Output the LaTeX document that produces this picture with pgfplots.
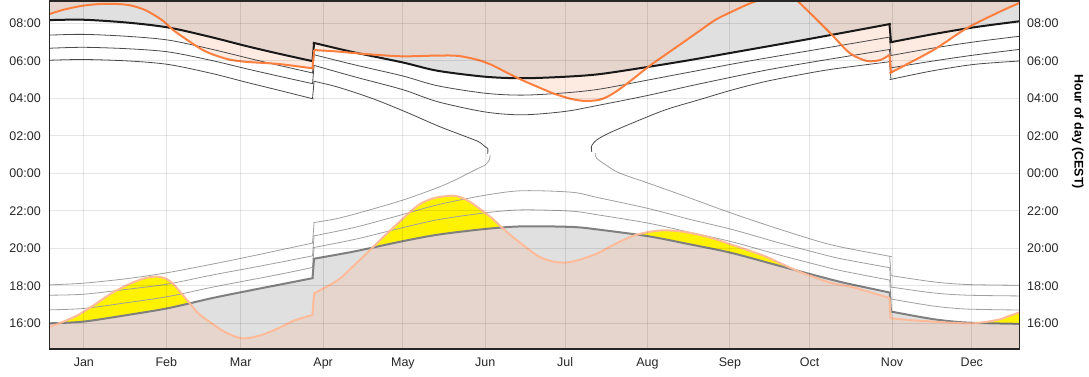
\documentclass[border=0pt]{standalone}
\usepackage{fontspec}
\setmainfont{Liberation Sans}
\usepackage{pgfplots}
\usepackage{pgfplotstable}
\pgfplotsset{compat=1.18}
\usepgfplotslibrary{fillbetween}
\definecolor{brownfill}{HTML}{E5D5CC}
\definecolor{greyfill}{HTML}{E0E0E0}
\definecolor{pinkfill}{HTML}{FDEBE2}
\definecolor{yellowfill}{HTML}{FFF200}
\definecolor{moontop}{HTML}{FF7F3F}
\definecolor{moonbot}{HTML}{FFBB99}
\definecolor{dawnline}{HTML}{4A4A4A}
\definecolor{duskline}{HTML}{A0A0A0}
% sunrise
\pgfplotstableread{
x y
0 8.18
13 8.20
30 8.04
45 7.78
61 7.27
74 6.80
86 6.40
98.4 6.01
99.0 5.99
99.6 6.96
100.2 6.94
115 6.45
133 5.92
146 5.48
164 5.16
178 5.08
194 5.16
207 5.30
225 5.68
241 6.05
257 6.45
271 6.80
286 7.18
301 7.57
315.4 7.95
316.0 7.97
316.6 7.00
317.2 7.02
332 7.42
348 7.80
365 8.12
}\sunrise
% sunset
\pgfplotstableread{
x y
0 -7.99
12.8 -7.90
29.7 -7.54
44.8 -7.18
61.1 -6.65
73.6 -6.29
86.2 -5.94
98.4 -5.60
99.0 -5.58
99.6 -4.55
100.2 -4.53
115 -4.15
132.6 -3.62
146.3 -3.26
163.9 -2.96
177.7 -2.82
196.5 -2.85
206.5 -2.99
225.4 -3.35
241 -3.78
256.7 -4.24
275.5 -4.96
294.4 -5.67
301.2 -5.90
315.5 -6.33
316.1 -6.35
316.6 -7.36
317.2 -7.38
332.6 -7.77
345.1 -7.95
365 -8.02
}\sunset
% moon, morning
\pgfplotstableread{
x y
0 8.50
5 8.72
11 8.91
17 9.02
23.5 9.05
30 8.98
36 8.72
42.3 8.19
46.6 7.65
52.3 7.08
57.3 6.62
61.1 6.37
67.3 6.09
73.6 5.96
86.2 5.84
98.4 5.62
99.0 5.61
99.6 6.58
100.2 6.576
107 6.52
115 6.42
120 6.36
132.6 6.25
146.3 6.29
153.9 6.27
161.4 6.05
166.4 5.79
171.4 5.43
177.7 4.99
184 4.60
190.2 4.24
196.5 3.97
201.5 3.87
206.5 3.92
210 4.10
214 4.45
219.1 4.99
225.4 5.70
231.6 6.32
237.9 6.94
244.1 7.56
250.5 8.19
256.7 8.63
263 9.04
267 9.25
271 9.50
275 9.58
279 9.45
282 9.12
288 8.30
294.4 7.39
301.2 6.41
307.5 6.00
312.5 6.05
315.4 6.27
316.0 6.32
316.6 5.38
317.2 5.43
332.6 6.59
345.1 7.75
357.7 8.64
365 9.10
}\moonam
% moon, evening
\pgfplotstableread{
x y
0 -8.17
5 -7.92
10.9 -7.54
17 -7.00
23.5 -6.38
30 -5.90
36 -5.58
40.5 -5.50
44 -5.62
47 -5.95
52.3 -6.83
56 -7.45
61.1 -7.99
66 -8.45
72.4 -8.79
79 -8.65
86.2 -8.25
92 -7.85
98.4 -7.57
99.0 -7.54
99.6 -6.40
100.2 -6.35
108.7 -5.67
115 -4.85
121.3 -3.99
127 -3.20
132.6 -2.46
136.5 -1.95
140.1 -1.57
145 -1.30
151.4 -1.18
155 -1.28
158.9 -1.57
162.5 -1.95
166.4 -2.37
170 -2.85
174 -3.35
179 -3.90
184 -4.42
189 -4.68
194 -4.75
199 -4.62
206.5 -4.24
212 -3.82
219.1 -3.35
225.4 -3.12
231.6 -3.03
238 -3.10
244.2 -3.26
250.5 -3.50
256.7 -3.80
263 -4.10
269.3 -4.42
275.5 -4.82
281.8 -5.22
288 -5.55
294.4 -5.85
301.2 -6.03
308 -6.30
315.4 -6.61
316.0 -6.64
316.5 -7.72
317.1 -7.73
324 -7.82
332.6 -7.90
340 -7.97
347.7 -7.99
353 -7.90
357.7 -7.77
361 -7.60
365 -7.40
}\moonpm
% civil dawn
\pgfplotstableread{
x y
0 7.38
13 7.42
30 7.31
45 7.11
61 6.63
74 6.18
86 5.78
98.4 5.38
99.0 5.36
99.6 6.33
100.2 6.31
115 5.79
133 5.20
146 4.68
164 4.28
178 4.18
194 4.30
207 4.50
225 4.98
241 5.41
257 5.84
271 6.19
286 6.55
301 6.91
315.4 7.26
316.0 7.27
316.6 6.30
317.2 6.31
332 6.68
348 7.02
365 7.32
}\Lone
% nautical dawn
\pgfplotstableread{
x y
0 6.68
13 6.73
30 6.65
45 6.48
61 6.03
74 5.59
86 5.20
98.4 4.81
99.0 4.79
99.6 5.76
100.2 5.74
115 5.15
133 4.47
146 3.83
164 3.28
178 3.13
194 3.31
207 3.65
225 4.16
241 4.67
257 5.15
271 5.55
286 5.92
301 6.27
315.4 6.60
316.0 6.61
316.6 5.64
317.2 5.65
332 5.99
348 6.32
365 6.62
}\Ltwo
% astronomical dawn (spring part)
\pgfplotstableread{
x y
0 6.04
13 6.08
30 6.00
45 5.81
61 5.34
74 4.87
86 4.45
98.4 4.01
99.0 3.99
99.6 4.92
100.2 4.90
108.7 4.60
121.3 4.01
133.8 3.30
146.3 2.53
155.1 2.05
161.4 1.70
163.9 1.43
164.9 1.34
164.9 1.04
}\LthreeA
% astronomical dawn (autumn part)
\pgfplotstableread{
x y
204.0 1.16
204.0 1.48
205.9 1.79
210.3 2.14
219.1 2.68
231.6 3.39
244.1 3.92
256.7 4.45
269.2 4.90
281.7 5.25
294.3 5.56
315.4 5.95
316.0 5.96
316.6 5.02
317.2 5.04
332 5.47
348 5.82
365 6.00
}\LthreeB
% civil dusk
\pgfplotstableread{
x y
0 -7.27
12.8 -7.20
29.7 -6.88
44.8 -6.56
61.1 -6.07
73.6 -5.73
86.2 -5.39
98.4 -5.03
99.0 -5.01
99.6 -3.95
100.2 -3.93
115 -3.51
132.6 -2.90
146.3 -2.46
163.9 -2.10
177.7 -1.94
196.5 -2.01
206.5 -2.21
225.4 -2.65
241 -3.14
256.7 -3.64
275.5 -4.38
294.4 -5.07
301.2 -5.28
315.5 -5.67
316.1 -5.69
316.6 -6.70
317.2 -6.71
332.6 -7.07
345.1 -7.23
365 -7.28
}\Eone
% nautical dusk
\pgfplotstableread{
x y
0 -6.49
12.8 -6.44
29.7 -6.17
44.8 -5.89
61.1 -5.42
73.6 -5.09
86.2 -4.75
98.4 -4.41
99.0 -4.39
99.6 -3.33
100.2 -3.31
115 -2.87
132.6 -2.20
146.3 -1.66
163.9 -1.16
177.7 -0.92
196.5 -1.00
206.5 -1.29
225.4 -1.87
241 -2.45
256.7 -2.98
275.5 -3.74
294.4 -4.44
301.2 -4.64
315.5 -5.01
316.1 -5.03
316.6 -6.06
317.2 -6.07
332.6 -6.37
345.1 -6.49
365 -6.53
}\Etwo
% astronomical dusk (spring part)
\pgfplotstableread{
x y
0 -5.94
12.8 -5.85
29.7 -5.60
44.8 -5.28
61.1 -4.84
73.6 -4.48
86.2 -4.10
98.4 -3.73
99.0 -3.71
99.6 -2.62
100.2 -2.60
108.7 -2.39
121.3 -1.91
133.8 -1.38
146.3 -0.74
152.6 -0.35
157.6 0.01
161.4 0.28
163.9 0.45
165.5 0.72
165.8 0.99
}\EthreeA
% astronomical dusk (autumn part)
\pgfplotstableread{
x y
205.3 1.08
205.9 0.81
210.3 0.36
214.7 0.01
225.4 -0.52
237.9 -1.15
256.7 -2.12
275.5 -3.01
294.3 -3.81
315.5 -4.40
316.1 -4.42
316.6 -5.45
317.2 -5.46
332.6 -5.78
345.1 -5.92
365 -5.96
}\EthreeB
% smooth pieces with straight clock-change jumps
\newcommand{\partA}[2]{%
  \addplot[#1, smooth, restrict x to domain=0:99.3] table {#2};
  \addplot[#1, restrict x to domain=98.9:99.7] table {#2};}
\newcommand{\partB}[2]{%
  \addplot[#1, smooth, restrict x to domain=99.3:316.3] table {#2};}
\newcommand{\partC}[2]{%
  \addplot[#1, restrict x to domain=315.9:316.7] table {#2};
  \addplot[#1, smooth, restrict x to domain=316.3:365] table {#2};}
\newcommand{\fullcurve}[2]{\partA{#1}{#2}\partB{#1}{#2}\partC{#1}{#2}}
\begin{document}
\begin{tikzpicture}
\begin{axis}[
  at={(49.3pt,28pt)}, anchor=south west,
  width=970.4pt, height=348pt, scale only axis,
  xmin=0, xmax=365, ymin=-9.36, ymax=9.2,
  xtick={13,44,72,103,133,164,194,225,256,286,317,347},
  xticklabels={Jan,Feb,Mar,Apr,May,Jun,Jul,Aug,Sep,Oct,Nov,Dec},
  ytick={-8,-6,-4,-2,0,2,4,6,8},
  yticklabels={16:00,18:00,20:00,22:00,00:00,02:00,04:00,06:00,08:00},
  grid=major,
  grid style={draw=black, opacity=0.1, line width=1pt},
  major tick length=0pt,
  axis on top,
  axis line style={line width=1.2pt, black!85},
  tick label style={font=\fontsize{12.5}{14}\selectfont, text=black!85},
  xticklabel style={yshift=-5pt},
  yticklabel style={xshift=-5pt},
]
% ---------- boundary paths (invisible) ----------
\addplot[name path=S, draw=none] table {\sunrise};
\addplot[name path=ST, draw=none] table {\sunset};
\addplot[name path=M, draw=none] table {\moonam};
\addplot[name path=MR, draw=none] table {\moonpm};
\path[name path=top] (axis cs:0,12) -- (axis cs:365,12);
\path[name path=bot] (axis cs:0,-12) -- (axis cs:365,-12);
% ---------- fills ----------
\addplot[fill=brownfill, draw=none] fill between[of=S and top];
\addplot[fill=brownfill, draw=none] fill between[of=M and top];
\addplot[draw=none] fill between[of=S and M, split,
  every segment no 0/.style={fill=greyfill},
  every segment no 1/.style={fill=pinkfill},
  every segment no 2/.style={fill=greyfill},
  every segment no 3/.style={fill=pinkfill},
  every segment no 4/.style={fill=greyfill},
  every segment no 5/.style={fill=pinkfill},
  every segment no 6/.style={fill=greyfill},
  every segment no 7/.style={fill=pinkfill}];
\addplot[fill=brownfill, draw=none] fill between[of=ST and bot];
\addplot[fill=brownfill, draw=none] fill between[of=MR and bot];
\addplot[draw=none] fill between[of=ST and MR, split,
  every segment no 0/.style={fill=greyfill},
  every segment no 1/.style={fill=yellowfill},
  every segment no 2/.style={fill=greyfill},
  every segment no 3/.style={fill=yellowfill},
  every segment no 4/.style={fill=greyfill},
  every segment no 5/.style={fill=yellowfill},
  every segment no 6/.style={fill=greyfill},
  every segment no 7/.style={fill=yellowfill},
  every segment no 8/.style={fill=greyfill}];
% ---------- twilight lines ----------
\fullcurve{dawnline, line width=0.8pt}{\Lone}
\fullcurve{dawnline, line width=0.8pt}{\Ltwo}
\partA{dawnline, line width=0.8pt}{\LthreeA}
\partB{dawnline, line width=0.8pt}{\LthreeA}
\partB{dawnline, line width=0.8pt}{\LthreeB}
\partC{dawnline, line width=0.8pt}{\LthreeB}
\fullcurve{duskline, line width=0.8pt}{\Eone}
\fullcurve{duskline, line width=0.8pt}{\Etwo}
\partA{duskline, line width=0.8pt}{\EthreeA}
\partB{duskline, line width=0.8pt}{\EthreeA}
\partB{duskline, line width=0.8pt}{\EthreeB}
\partC{duskline, line width=0.8pt}{\EthreeB}
% ---------- sun and moon ----------
\fullcurve{black!50, line width=2pt}{\sunset}
\fullcurve{black!90, line width=2pt}{\sunrise}
\fullcurve{moonbot, line width=2pt}{\moonpm}
\fullcurve{moontop, line width=2pt}{\moonam}
\end{axis}
\begin{axis}[
  at={(49.3pt,28pt)}, anchor=south west,
  width=970.4pt, height=348pt, scale only axis,
  xmin=0, xmax=365, ymin=-9.36, ymax=9.2,
  axis x line=none, axis y line*=right,
  ytick={-8,-6,-4,-2,0,2,4,6,8},
  yticklabels={16:00,18:00,20:00,22:00,00:00,02:00,04:00,06:00,08:00},
  major tick length=0pt,
  axis line style={line width=1.2pt, black!85},
  tick label style={font=\fontsize{12.5}{14}\selectfont, text=black!85},
  yticklabel style={xshift=4pt},
  ylabel={Hour of day (CEST)},
  ylabel style={font=\bfseries\fontsize{12.5}{14}\selectfont, at={(axis description cs:1.06,0.624)}, rotate=180, anchor=center},
]
\addplot[draw=none] coordinates {(0,0)};
\end{axis}
\path (0,0) rectangle (1089pt,377pt);
\end{tikzpicture}
\end{document}
